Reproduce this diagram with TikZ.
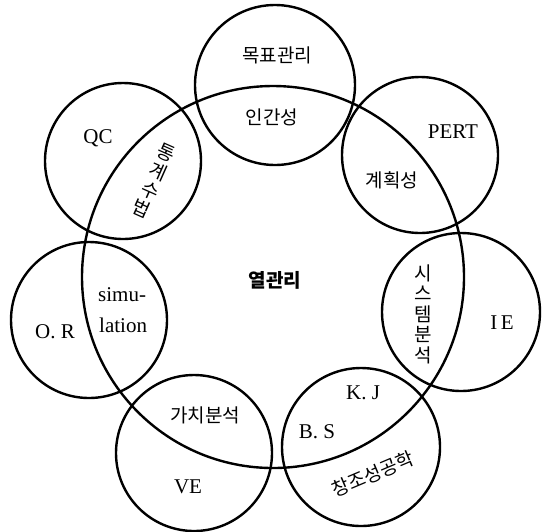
\documentclass[tikz,border=0pt]{standalone}
\usepackage{fontspec}
\setmainfont{Liberation Serif}
\newfontfamily\kr{Noto Sans CJK KR}
\begin{document}
\begin{tikzpicture}[x=1pt,y=-1pt,
  ring/.style={draw, circle, line width=2.4pt, inner sep=0pt, minimum size=#1},
  lat/.style={font=\fontsize{21}{21}\selectfont, inner sep=0pt},
  kor/.style={font=\kr\fontsize{19}{20.5}\selectfont, inner sep=0pt},
  kstack/.style={font=\kr\fontsize{19}{20.5}\selectfont, inner sep=0pt, align=center}]
\useasboundingbox (0,0) rectangle (545,531);
% central circle
\node[ring=382pt] (main) at (273,277) {};
% surrounding circles
\node[ring=160pt] (mbo) at (275,85) {};
\node[ring=156pt] (qc) at (123,161) {};
\node[ring=156pt] (pert) at (420,155) {};
\node[ring=156pt] (or) at (89,320) {};
\node[ring=158pt] (ie) at (461,312) {};
\node[ring=156pt] (ve) at (194,453) {};
\node[ring=158pt] (ce) at (361,447) {};
% labels
\node[kor] (t1) at (277,55) {목표관리};
\node[kor] (t2) at (272,117) {인간성};
\node[lat] (t3) at (98,138) {QC};
\node[kstack, rotate=-24] (t4) at (154,181) {통\\계\\수\\법};
\node[lat] (t5) at (453,132) {PERT};
\node[kor] (t6) at (392,180) {계획성};
\node[lat] (t7) at (55,332) {O. R};
\node[lat, anchor=west] (t8) at (98,295) {simu-};
\node[lat, anchor=west] (t9) at (99,325) {lation};
\node[kstack] (t10) at (423,314) {시\\스\\템\\분\\석};
\node[lat] (t11) at (502,323) {I\,E};
\node[lat] (t12) at (363,393) {K. J};
\node[lat] (t13) at (317,432) {B. S};
\node[kor] (t14) at (205,415) {가치분석};
\node[lat] (t15) at (188,487) {VE};
\node[kor, rotate=23] (t16) at (373,474) {창조성공학};
\node[kor, font=\kr\bfseries\fontsize{19}{20}\selectfont] (t17) at (275,280) {열관리};
\end{tikzpicture}
\end{document}
